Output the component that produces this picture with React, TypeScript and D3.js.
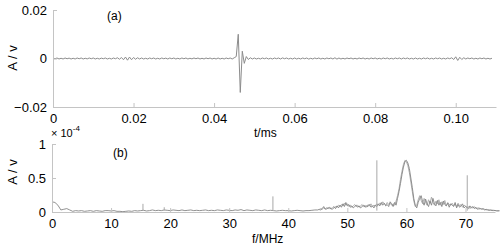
import { useEffect, useRef } from "react";
import * as d3 from "d3";

// top panel: time signal, sampled every 0.5 us, amplitude in mV
const SIGNAL_STEP = 0.0005;
const signalMv = [
  0.2, -0.1, 0.2, -0.2, 0.1, -0.2, 0.2, -0.1, 0.15, -0.2,
  0.1, -0.2, 0.2, -0.1, 0.2, -0.2, 0.1, -0.15, 0.2, -0.1,
  0.2, -0.2, 0.1, -0.2, 0.15, -0.1, 0.2, -0.2, 0.1, -0.2,
  0.2, -0.1, 0.3, -0.3, 0.4, -0.5, 0.6, -0.7, 0.6, -0.5,
  0.4, -0.3, 0.3, -0.2, 0.2, -0.2, 0.1, -0.2, 0.2, -0.1,
  0.2, -0.2, 0.1, -0.2, 0.2, -0.1, 0.15, -0.2, 0.2, -0.1,
  0.2, -0.2, 0.1, -0.2, 0.2, -0.1, 0.2, -0.2, 0.1, -0.15,
  0.2, -0.1, 0.2, -0.2, 0.1, -0.2, 0.2, -0.1, 0.2, -0.2,
  0.1, -0.2, 0.2, -0.2, 0.1, -0.2, 0.2, -0.1, 0.2, -0.2,
  0.3, 0.8, 10.0, -14.0, 3.0, -2.0, 0.8, -0.4, 0.3, -0.2,
  0.2, -0.2, 0.1, -0.2, 0.2, -0.1, 0.2, -0.2, 0.1, -0.2,
  0.2, -0.1, 0.2, -0.2, 0.25, -0.1, 0.2, -0.2, 0.1, -0.2,
  0.2, -0.2, 0.1, -0.2, 0.2, -0.1, 0.2, -0.25, 0.1, -0.2,
  0.2, -0.1, 0.2, -0.2, 0.1, -0.2, 0.2, -0.1, 0.2, -0.2,
  0.3, -0.25, 0.2, -0.2, 0.1, -0.2, 0.2, -0.1, 0.2, -0.2,
  0.1, -0.2, 0.2, -0.1, 0.2, -0.2, 0.1, -0.2, 0.2, -0.1,
  0.2, -0.2, 0.1, -0.2, 0.2, -0.1, 0.2, -0.2, 0.1, -0.2,
  0.2, -0.1, 0.2, -0.2, 0.2, -0.1, 0.2, -0.2, 0.1, -0.2,
  0.2, -0.2, 0.1, -0.2, 0.2, -0.1, 0.2, -0.2, 0.1, -0.2,
  0.2, -0.1, 0.2, -0.2, 0.1, -0.2, 0.2, -0.1, 0.3, -0.4,
  0.7, -0.8, 0.5, -0.4, 0.3, -0.2, 0.2, -0.1, 0.2, -0.2,
  0.1, -0.2, 0.2, -0.1, 0.2, -0.2, 0.1, -0.2, 0.1,
];
const timeTicks = [0, 0.02, 0.04, 0.06, 0.08, 0.1];
const timeTickLabels = ["0", "0.02", "0.04", "0.06", "0.08", "0.10"];
const ampTicks = [-0.02, 0, 0.02];

// bottom panel: spectrum in units of 1e-4 V
const SPEC_LOW_STEP = 0.5; // 0 .. 45 MHz
const specLow = [
  0.15, 0.14, 0.10, 0.03, 0.04, 0.05, 0.03, 0.01, 0.02, 0.015,
  0.02, 0.01, 0.015, 0.02, 0.01, 0.02, 0.015, 0.01, 0.02, 0.02,
  0.015, 0.02, 0.01, 0.01, 0.005, 0.01, 0.015, 0.01, 0.02, 0.015,
  0.02, 0.025, 0.015, 0.02, 0.03, 0.02, 0.025, 0.02, 0.03, 0.025,
  0.02, 0.03, 0.025, 0.02, 0.03, 0.02, 0.025, 0.03, 0.02, 0.025,
  0.02, 0.025, 0.03, 0.02, 0.025, 0.02, 0.03, 0.025, 0.02, 0.03,
  0.025, 0.02, 0.03, 0.025, 0.035, 0.02, 0.03, 0.025, 0.02, 0.03,
  0.025, 0.02, 0.03, 0.02, 0.025, 0.02, 0.015, 0.02, 0.025, 0.02,
  0.02, 0.015, 0.02, 0.025, 0.02, 0.015, 0.02, 0.02, 0.025, 0.03,
  0.03,
];
// 45.25 .. 75.75 MHz, two overlaid traces
const SPEC_HIGH_START = 45.25;
const SPEC_HIGH_STEP = 0.25;
const specHigh = [
  0.04, 0.03, 0.05, 0.08, 0.04, 0.06, 0.05, 0.07, 0.04, 0.06,
  0.08, 0.05, 0.09, 0.06, 0.1, 0.07, 0.12, 0.08, 0.14, 0.09,
  0.11, 0.07, 0.09, 0.06, 0.08, 0.1, 0.07, 0.09, 0.06, 0.08,
  0.1, 0.07, 0.09, 0.08, 0.11, 0.07, 0.09, 0.06, 0.1, 0.08,
  0.12, 0.09, 0.14, 0.1, 0.13, 0.09, 0.11, 0.08, 0.15, 0.12,
  0.08, 0.14, 0.1, 0.2, 0.3, 0.42, 0.55, 0.66, 0.74, 0.76,
  0.72, 0.64, 0.5, 0.36, 0.2, 0.1, 0.06, 0.14, 0.2, 0.24,
  0.15, 0.1, 0.19, 0.12, 0.08, 0.16, 0.1, 0.2, 0.12, 0.09,
  0.17, 0.1, 0.14, 0.08, 0.16, 0.11, 0.09, 0.13, 0.07, 0.12,
  0.1, 0.08, 0.14, 0.06, 0.11, 0.07, 0.09, 0.12, 0.06, 0.08,
  0.07, 0.05, 0.09, 0.06, 0.08, 0.05, 0.07, 0.04, 0.06, 0.05,
  0.04, 0.05, 0.03, 0.04, 0.03, 0.025, 0.03, 0.02, 0.025, 0.02,
  0.02, 0.015, 0.02,
];
const specHigh2 = [
  0.03, 0.05, 0.04, 0.06, 0.05, 0.04, 0.07, 0.05, 0.06, 0.04,
  0.06, 0.08, 0.07, 0.1, 0.08, 0.11, 0.09, 0.13, 0.1, 0.12,
  0.08, 0.1, 0.07, 0.09, 0.11, 0.08, 0.1, 0.07, 0.09, 0.11,
  0.08, 0.1, 0.07, 0.11, 0.09, 0.12, 0.08, 0.1, 0.09, 0.12,
  0.1, 0.13, 0.11, 0.15, 0.12, 0.1, 0.14, 0.11, 0.13, 0.1,
  0.12, 0.1, 0.16, 0.24, 0.34, 0.48, 0.6, 0.7, 0.76, 0.74,
  0.68, 0.58, 0.44, 0.3, 0.16, 0.08, 0.1, 0.18, 0.24, 0.17,
  0.12, 0.2, 0.14, 0.1, 0.18, 0.13, 0.22, 0.14, 0.1, 0.16,
  0.12, 0.18, 0.1, 0.15, 0.11, 0.17, 0.09, 0.14, 0.11, 0.1,
  0.13, 0.09, 0.12, 0.08, 0.13, 0.09, 0.11, 0.07, 0.1, 0.09,
  0.06, 0.08, 0.05, 0.07, 0.06, 0.08, 0.05, 0.06, 0.04, 0.05,
  0.05, 0.04, 0.04, 0.03, 0.035, 0.03, 0.025, 0.03, 0.02, 0.025,
  0.015, 0.02, 0.015,
];
// narrow lines in the spectrum
const spikeFreqs = [15.4, 19, 37.4, 55, 70.3];
const spikeAmps = [0.12, 0.07, 0.23, 0.76, 0.54];
const freqTicks = [0, 10, 20, 30, 40, 50, 60, 70];
const specTicks = [0, 0.5, 1];

const W = 500;
const H = 248;
const AXIS_COLOR = "#c4c4c4";
const FONT = "Arial, 'Liberation Sans', sans-serif";

const App = () => {
  const ref = useRef<SVGSVGElement>(null);

  useEffect(() => {
    const svg = d3.select(ref.current);
    svg.selectAll("*").remove();

    // ---------- top panel ----------
    const xT = d3.scaleLinear().domain([0, 0.11]).range([53, 496]);
    const yT = d3.scaleLinear().domain([-0.02, 0.02]).range([107, 10]);

    const top = svg.append("g");
    const sig = signalMv.map((v, i) => [i * SIGNAL_STEP, v / 1000] as [number, number]);
    top
      .append("path")
      .attr("d", d3.line().x((d) => xT(d[0])).y((d) => yT(d[1]))(sig) as string)
      .attr("fill", "none")
      .attr("stroke", "#8c8c8c")
      .attr("stroke-width", 1);

    const xAxT = top
      .append("g")
      .attr("transform", "translate(0,107)")
      .call(
        d3
          .axisBottom(xT)
          .tickValues(timeTicks)
          .tickFormat((_d, i) => timeTickLabels[i])
          .tickSizeInner(-4)
          .tickSizeOuter(0)
          .tickPadding(7)
      );
    const yAxT = top
      .append("g")
      .attr("transform", "translate(53,0)")
      .call(
        d3
          .axisLeft(yT)
          .tickValues(ampTicks)
          .tickFormat((d) => (+d === 0 ? "0" : d3.format(".2f")(+d)))
          .tickSizeInner(-4)
          .tickSizeOuter(0)
          .tickPadding(6)
      );

    top.append("text").attr("x", 107).attr("y", 20).text("(a)").attr("font-size", 12);
    top.append("text").attr("x", 254).attr("y", 137).text("t/ms").attr("font-size", 12);
    top
      .append("text")
      .attr("transform", "translate(17,58) rotate(-90)")
      .attr("text-anchor", "middle")
      .attr("font-size", 13)
      .text("A / v");

    // ---------- bottom panel ----------
    const xB = d3.scaleLinear().domain([0, 75]).range([52, 495]);
    const yB = d3.scaleLinear().domain([0, 1]).range([212, 144]);

    const bot = svg.append("g");
    const lineB = d3.line().x((d) => xB(d[0])).y((d) => yB(d[1]));
    const highB = (arr: number[]) =>
      arr.map((v, i) => [SPEC_HIGH_START + i * SPEC_HIGH_STEP, v] as [number, number]);

    bot
      .append("path")
      .attr("d", lineB(highB(specHigh2)) as string)
      .attr("fill", "none")
      .attr("stroke", "#b0b0b0")
      .attr("stroke-width", 1);

    const spec: [number, number][] = [
      ...specLow.map((v, i) => [i * SPEC_LOW_STEP, v] as [number, number]),
      ...highB(specHigh),
    ];
    bot
      .append("path")
      .attr("d", lineB(spec) as string)
      .attr("fill", "none")
      .attr("stroke", "#858585")
      .attr("stroke-width", 0.9);

    bot
      .selectAll("line.spike")
      .data(spikeFreqs)
      .join("line")
      .attr("class", "spike")
      .attr("x1", (d) => xB(d))
      .attr("x2", (d) => xB(d))
      .attr("y1", yB(0.02))
      .attr("y2", (_d, i) => yB(spikeAmps[i]))
      .attr("stroke", "#a8a8a8")
      .attr("stroke-width", 1);

    const xAxB = bot
      .append("g")
      .attr("transform", "translate(0,212)")
      .call(
        d3.axisBottom(xB).tickValues(freqTicks).tickSizeInner(-4).tickSizeOuter(0).tickPadding(7)
      );
    const yAxB = bot
      .append("g")
      .attr("transform", "translate(52,0)")
      .call(
        d3
          .axisLeft(yB)
          .tickValues(specTicks)
          .tickFormat((d) => String(+d))
          .tickSizeInner(-4)
          .tickSizeOuter(0)
          .tickPadding(6)
      );

    const mult = bot.append("text").attr("x", 51).attr("y", 137).attr("font-size", 11);
    mult.append("tspan").text("× 10");
    mult.append("tspan").attr("dy", -6).attr("font-size", 8).text("-4");

    bot.append("text").attr("x", 113).attr("y", 157).text("(b)").attr("font-size", 12);
    bot.append("text").attr("x", 252).attr("y", 243).text("f/MHz").attr("font-size", 12);
    bot
      .append("text")
      .attr("transform", "translate(17,172) rotate(-90)")
      .attr("text-anchor", "middle")
      .attr("font-size", 13)
      .text("A / v");

    // shared axis styling
    [xAxT, yAxT, xAxB, yAxB].forEach((ax) => {
      ax.select(".domain").attr("stroke", AXIS_COLOR);
      ax.selectAll(".tick line").attr("stroke", AXIS_COLOR);
      ax.selectAll(".tick text")
        .attr("fill", "#000")
        .attr("font-size", 13)
        .attr("font-family", FONT);
    });
    svg.selectAll("text").attr("font-family", FONT).attr("fill", "#000");
  }, []);

  return (
    <div style={{ position: "absolute", left: 0, top: 0 }}>
      <svg ref={ref} width={W} height={H} style={{ display: "block", background: "#fff" }} />
    </div>
  );
};

export default App;
